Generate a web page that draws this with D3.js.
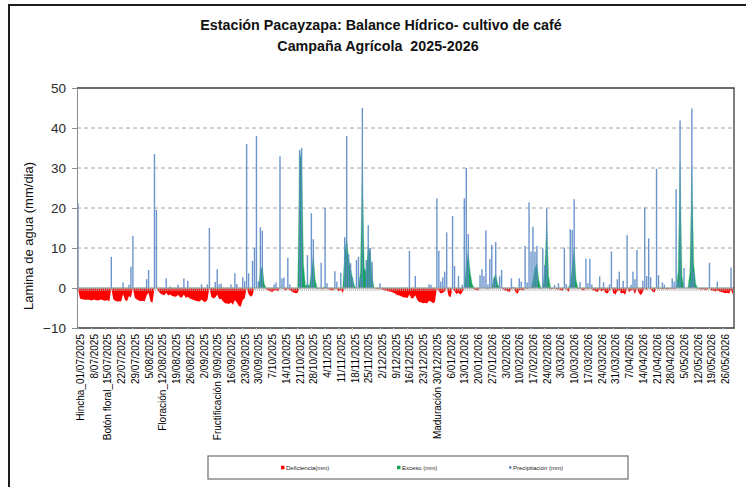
<!DOCTYPE html>
<html>
<head>
<meta charset="utf-8">
<script src="https://cdn.jsdelivr.net/npm/d3@7"></script>
<style>
  body { margin: 0; background: #fff; }
  svg { display: block; }
</style>
</head>
<body>
<svg id="chart" width="746" height="487"></svg>
<script>
// dias de la campaña: 01/07/2025 .. 31/05/2026
const nDias = 335;

// etiquetas del eje x (una cada 7 dias)
const etiquetas = ["Hincha_01/07/2025","8/07/2025","Botón floral_15/07/2025","22/07/2025","29/07/2025","5/08/2025",
  "Floración_12/08/2025","19/08/2025","26/08/2025","2/09/2025","Fructificación 9/09/2025","16/09/2025","23/09/2025",
  "30/09/2025","7/10/2025","14/10/2025","21/10/2025","28/10/2025","4/11/2025","11/11/2025","18/11/2025","25/11/2025",
  "2/12/2025","9/12/2025","16/12/2025","23/12/2025","Maduración 30/12/2025","6/01/2026","13/01/2026","20/01/2026",
  "27/01/2026","3/02/2026","10/02/2026","17/02/2026","24/02/2026","3/03/2026","10/03/2026","17/03/2026","24/03/2026",
  "31/03/2026","7/04/2026","14/04/2026","21/04/2026","28/04/2026","5/05/2026","12/05/2026","19/05/2026","26/05/2026"];

const yTicks = [-10, 0, 10, 20, 30, 40, 50];

// precipitacion (mm): dia de la campaña y lamina
const lluviaDia = [0,17,23,26,27,28,35,36,39,40,45,47,51,54,56,63,66,67,70,71,72,73,78,80,81,84,85,86,87,89,90,91,92,93,94,
  100,101,103,104,105,107,108,113,114,117,119,120,124,126,127,131,132,134,136,137,138,139,140,142,143,144,145,147,148,149,150,154,
  169,172,179,180,183,184,185,186,187,188,191,192,194,196,197,198,199,205,206,207,208,209,210,211,212,213,215,216,221,222,225,226,
  228,229,230,231,232,233,234,237,238,239,243,245,248,249,251,252,253,256,259,260,261,262,266,268,271,272,275,276,278,280,282,283,
  284,285,288,289,290,291,292,295,296,298,299,303,304,305,306,307,309,312,313,314,322,326,333];
const lluviaMm = [21.2,7.8,1.4,0.8,5.3,13,2.2,4.5,33.5,19.5,2.4,0.4,0.8,2.4,1.8,0.9,0.9,15,1.5,4.7,0.9,1.1,0.9,3.7,1,2.7,1.7,36,3.7,6.8,10,38,1.6,15.2,14.3,
  0.9,1.4,32.9,2.4,2.6,7.5,0.9,34.5,35,8.2,18.7,12.2,6.3,20,1.2,4.2,1.6,3.8,12.7,38,8.4,6.2,2.6,7,7.8,2.6,45,7,15.7,10,6.6,1.2,
  9.3,3,0.9,0.8,22.4,9.3,1.6,2.7,4.1,13.9,18,5.5,3,0.8,22.4,30,13.5,3.2,4.7,3,14.4,0.9,7.2,10.8,2.2,11.5,2.9,4.5,2.4,0.3,2.4,1.6,
  10.5,1.4,21.4,9.1,15.3,9.1,10.5,9.9,5.7,19.9,0.8,1.2,10.1,1,14.7,14.5,22.2,1.5,7.3,1.2,7.3,0.9,2.9,1.4,0.9,9.1,2.2,4.1,1.8,13.2,0.8,4.1,
  2.2,9.5,1.8,20.2,3,12.4,2.7,29.8,3.2,1.4,0.8,2.4,1.6,24.7,1.6,41.9,5,1.4,44.9,4.1,6.3,1.6,5.1];

// exceso (mm)
const excesoDia = [93,94,95,113,114,115,116,117,118,119,120,121,126,136,137,138,139,140,141,144,145,146,147,148,149,150,
  198,199,200,201,212,213,214,232,233,234,235,238,239,240,251,252,253,254,306,307,308,312,313,314,315];
const excesoMm = [4.5,5.3,1,32,34.5,6,0.5,1,0.5,4,8.2,2,0.4,9,12.4,7.4,4.9,2.5,0.5,4,31.6,5,4,10.7,9,3,
  6,9,4,1,2.5,3.5,1,2,5,6.2,2,5,16.6,3,1,5,10.3,2,4,31.5,3,4,30.7,6,1];

// deficiencia (mm), un valor por dia (semanas de 7 dias)
const deficiencia = [
  0,-2.6,-2.8,-2.9,-3.0,-2.9,-3.0,
  -3.1,-2.9,-3.0,-3.1,-3.0,-2.9,-3.1,
  -3.2,-3.0,-3.4,0,-2.8,-3.2,-3.4,
  -3.3,-3.4,-1.5,-3.0,-3.3,-2.0,-2.4,
  0,-2.5,-2.9,-3.1,-3.3,-3.2,-3.4,
  -1.8,-1.2,-3.4,-3.7,0,0,-0.8,
  -1.4,-1.6,-1.8,-1.2,-1.9,-1.6,-2.0,
  -2.1,-2.2,-1.7,-2.3,-2.4,-1.6,-2.5,
  -2.2,-2.6,-2.8,-3.0,-3.2,-3.3,-3.4,
  -2.9,-3.4,-3.5,-3.0,0,-2.2,-2.6,
  -2.4,-1.6,-2.8,-2.7,-3.4,-3.8,-3.9,
  -4.0,-3.6,-4.2,-3.0,-3.6,-4.5,-4.7,
  -3.0,-2.6,0,-1.5,-2.2,-1.8,0,
  0,0,0,0,0,-0.3,-0.6,
  -0.8,-1.0,-0.7,-0.5,-0.9,0,0,
  -0.3,-0.6,-0.2,-0.5,-0.9,-1.1,-1.3,
  -1.2,0,0,0,0,0,0,
  0,0,0,-0.3,0,-0.2,-0.4,
  0,-0.2,-0.4,-0.5,-0.6,-0.2,-0.3,
  -0.9,-0.5,-1.2,0,0,0,0,
  0,0,0,0,0,0,0,
  0,0,0,0,0,-0.2,-0.3,
  -0.2,-0.4,-0.5,-0.6,-0.8,-0.9,-1.0,
  -1.2,-1.5,-1.8,-1.9,-2.1,-2.3,-2.4,
  -2.5,-1.6,-2.6,-2.5,-1.8,-3.0,-3.5,
  -3.6,-3.8,-3.7,-3.9,-3.2,-3.4,-3.8,
  -3.5,0,-0.8,-1.4,-1.2,-0.9,0,
  -2.0,-2.3,0,-0.8,-1.5,-1.2,-1.7,
  -1.0,0,0,0,0,0,-0.3,
  -0.5,-0.6,0,0,0,0,-0.3,
  0,0,0,0,0,0,0,
  -0.4,-0.6,-0.8,-1.0,-0.3,0,-0.9,
  -1.5,-0.6,-0.4,-0.7,0,-0.3,0,
  0,0,0,0,0,-0.2,0,
  0,0,0,-0.3,-0.2,0,-0.4,
  -0.3,-0.5,-0.7,0,-0.3,-1.0,0,
  0,0,0,-0.3,0,-0.5,-0.6,
  0,-0.4,0,-0.3,-0.6,-0.8,-1.0,
  -0.4,-0.9,-0.5,-1.2,-1.4,-0.6,0,
  -1.3,-1.6,-0.8,-0.5,-1.4,-1.2,-1.7,
  0,-1.0,-0.6,-0.4,-1.5,0,-1.2,
  -1.8,-1.0,0,-0.5,0,-0.3,-0.9,
  -1.1,0,-0.3,-0.2,-0.3,-0.2,-0.3,
  -0.3,-0.2,-0.2,-0.3,0,0,0,
  0,0,0,0,0,0,0,
  0,-0.2,-0.3,-0.4,-0.3,-0.5,-0.4,
  0,-0.6,-0.7,-0.9,-0.6,-0.9,-1.0,
  -1.1,-1.3,-1.2,-1.4,-0.5,-1.6
];

const dias = d3.range(nDias);
const exceso = dias.map(() => 0);
excesoDia.forEach((d, k) => exceso[d] = excesoMm[k]);

const fuente = "'Liberation Sans', Arial, sans-serif";
const svg = d3.select("#chart");

const plot = { left: 77, right: 734, top: 88, bottom: 328 };

const x = d3.scaleBand().domain(dias).range([plot.left, plot.right]).padding(0);
const cx = i => x(i) + x.bandwidth() / 2;
const y = d3.scaleLinear().domain([-10, 50]).range([plot.bottom, plot.top]);

// marco exterior
svg.append("path")
  .attr("d", "M9,487 L9,5 L746,5")
  .attr("fill", "none").attr("stroke", "#1e1e1e").attr("stroke-width", 2);

// titulo
svg.append("text").attr("x", 381).attr("y", 30).attr("text-anchor", "middle")
  .style("font-family", fuente).style("font-weight", "bold").style("font-size", "14.3px").attr("fill", "#111")
  .text("Estación Pacayzapa: Balance Hídrico- cultivo de café");
svg.append("text").attr("x", 378).attr("y", 51).attr("text-anchor", "middle")
  .style("font-family", fuente).style("font-weight", "bold").style("font-size", "14.3px").attr("fill", "#111")
  .style("white-space", "pre")
  .text("Campaña Agrícola  2025-2026");

// lineas de grilla
svg.append("g").selectAll("line")
  .data(yTicks.filter(v => v > 0 && v < 50))
  .enter().append("line")
  .attr("x1", plot.left).attr("x2", plot.right)
  .attr("y1", d => y(d)).attr("y2", d => y(d))
  .attr("stroke", "#a6a6a6").attr("stroke-width", 1).attr("stroke-dasharray", "4,3");

// deficiencia
svg.append("path")
  .datum(dias)
  .attr("fill", "#ff0000")
  .attr("d", d3.area().x(cx).y0(y(0)).y1(i => y(deficiencia[i])));

// exceso
svg.append("path")
  .datum(dias)
  .attr("fill", "#17a35c")
  .attr("stroke", "#5cc98d").attr("stroke-width", 0.6).attr("stroke-dasharray", "2,1")
  .attr("d", d3.area().x(cx).y0(y(0)).y1(i => y(exceso[i])));

// precipitacion
svg.append("g").selectAll("rect")
  .data(lluviaDia)
  .enter().append("rect")
  .attr("x", (d) => cx(d) - 0.7)
  .attr("width", 1.4)
  .attr("y", (d, k) => y(lluviaMm[k]))
  .attr("height", (d, k) => y(0) - y(lluviaMm[k]))
  .attr("fill", "#5b89c6").attr("opacity", 0.9);

// eje en cero con marcas diarias
svg.append("line")
  .attr("x1", plot.left).attr("x2", plot.right).attr("y1", y(0)).attr("y2", y(0))
  .attr("stroke", "#a0a0a0").attr("stroke-width", 1);
svg.append("g").selectAll("line")
  .data(dias)
  .enter().append("line")
  .attr("x1", d => x(d)).attr("x2", d => x(d))
  .attr("y1", y(0)).attr("y2", y(0) + 3)
  .attr("stroke", "#b4b4b4").attr("stroke-width", 0.8);

// borde del area de trazado
svg.append("path")
  .attr("d", `M${plot.left},${plot.top} L${plot.right},${plot.top} L${plot.right},${plot.bottom} L${plot.left},${plot.bottom}`)
  .attr("fill", "none").attr("stroke", "#3a3a3a").attr("stroke-width", 1.3);

// eje y
const ejeY = svg.append("g")
  .attr("transform", `translate(${plot.left},0)`)
  .call(d3.axisLeft(y).tickValues(yTicks).tickSize(5).tickPadding(6));
ejeY.select(".domain").attr("stroke", "#8c8c8c");
ejeY.selectAll(".tick line").attr("stroke", "#8c8c8c");
ejeY.selectAll("text").style("font-family", fuente)
  .style("font-size", "13.5px").attr("fill", "#2a2a2a");

svg.append("text")
  .attr("transform", "translate(33,236) rotate(-90)")
  .attr("text-anchor", "middle")
  .style("font-family", fuente).style("font-size", "13px").attr("fill", "#111")
  .text("Lamina de agua (mm/dia)");

// eje x: etiquetas semanales
const ejeX = svg.append("g");
ejeX.selectAll("line")
  .data(etiquetas)
  .enter().append("line")
  .attr("x1", (d, k) => cx(k * 7)).attr("x2", (d, k) => cx(k * 7))
  .attr("y1", plot.bottom).attr("y2", plot.bottom + 2)
  .attr("stroke", "#c8c8c8");
ejeX.selectAll("text")
  .data(etiquetas)
  .enter().append("text")
  .attr("transform", (d, k) => `translate(${cx(k * 7) + 2.5},${plot.bottom + 6}) rotate(-90)`)
  .attr("text-anchor", "end")
  .attr("dy", "0.35em")
  .style("font-family", fuente).style("font-size", "10px").attr("fill", "#000")
  .text(d => d);

// leyenda
const leyenda = svg.append("g");
leyenda.append("rect")
  .attr("x", 208).attr("y", 456).attr("width", 420).attr("height", 23)
  .attr("fill", "#fff").attr("stroke", "#6e6e6e").attr("stroke-width", 1.2);
const items = [
  { nombre: "Deficiencia(mm)", color: "#ff0000", x: 281, lado: 3.5 },
  { nombre: "Exceso (mm)", color: "#17a35c", x: 397, lado: 3.5 },
  { nombre: "Precipitación (mm)", color: "#5b89c6", x: 509, lado: 2.5 }
];
const it = leyenda.selectAll(".item").data(items).enter().append("g");
it.append("rect")
  .attr("x", d => d.x).attr("y", d => 467.5 - d.lado / 2)
  .attr("width", d => d.lado).attr("height", d => d.lado)
  .attr("fill", d => d.color);
it.append("text")
  .attr("x", d => d.x + d.lado + 1.5).attr("y", 469.5)
  .style("font-family", fuente).style("font-size", "6px").attr("fill", "#222")
  .text(d => d.nombre);
</script>
</body>
</html>
